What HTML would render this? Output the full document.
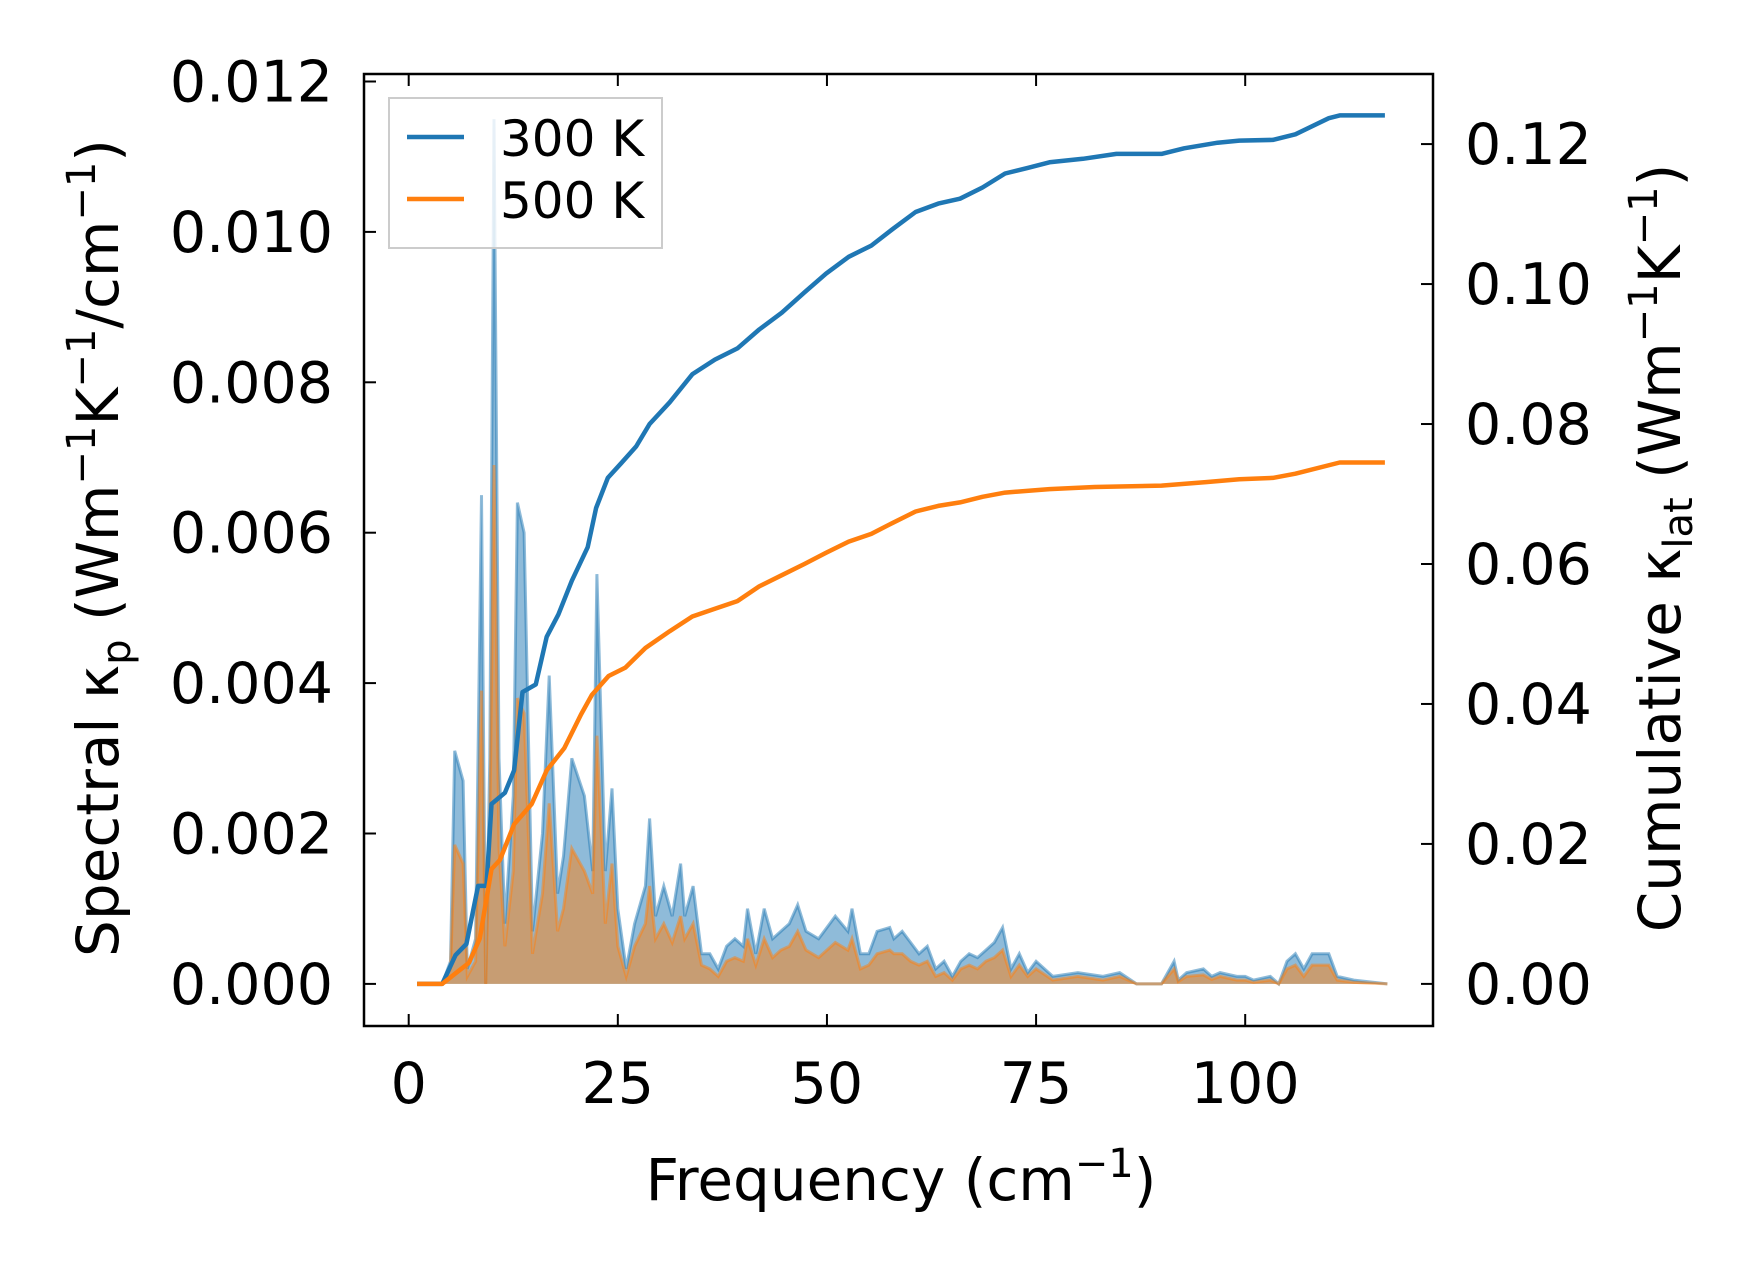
<!DOCTYPE html>
<html><head><meta charset="utf-8"><style>
body{margin:0;background:#fff}
svg text{font-family:"DejaVu Sans","Liberation Sans",sans-serif;fill:#000}
</style></head><body>
<svg id="c" width="1753" height="1277" viewBox="0 0 1753 1277" xmlns="http://www.w3.org/2000/svg"></svg>
<script>
const freqS=[1,4,5,5.5,6.5,7,8,8.7,9.2,9.7,10.2,10.8,11.5,12.5,13,13.8,14.8,16,16.8,17.8,18.5,19.5,21,22,22.5,23.5,24.3,25,26,27,28.3,28.8,29.5,30.5,31.5,32.5,33,34,35,36,37,38,39,40,40.5,41.5,42.5,43.5,44.5,45.5,46.5,47.5,49,51,52.5,53,54,55,56,57.5,58,59,60,61,62,63,64,65,66,67,68,69,70,71,72,73,74,75,77,80,83,85,87,90,91.5,92,93,95,96,97,99,100,101,103,104,105,106,107,108,110,111,113,117];
const spec300=[0,0,0.3,3.1,2.7,0.2,0.6,6.5,0,3,11.5,3,0.8,2.5,6.4,6.0,0.7,2,4.1,1.2,1.7,3.0,2.5,1.5,5.45,1.5,2.6,1,0.2,0.8,1.3,2.2,0.9,1.3,0.9,1.6,0.9,1.3,0.4,0.4,0.2,0.5,0.6,0.5,1.0,0.4,1.0,0.6,0.7,0.8,1.05,0.7,0.6,0.9,0.7,1.0,0.4,0.4,0.7,0.75,0.6,0.7,0.55,0.4,0.5,0.2,0.3,0.1,0.3,0.4,0.35,0.45,0.55,0.75,0.2,0.4,0.15,0.3,0.1,0.15,0.1,0.15,0,0,0.3,0.05,0.15,0.2,0.1,0.15,0.1,0.1,0.05,0.1,0,0.3,0.4,0.2,0.4,0.4,0.1,0.05,0];
const spec500=[0,0,0.2,1.85,1.6,0.1,0.3,3.9,0,2,6.9,1.8,0.5,1.5,3.8,3.6,0.4,1.2,2.4,0.7,1.0,1.8,1.5,1.2,3.3,0.8,1.6,0.5,0.1,0.5,0.8,1.3,0.6,0.8,0.55,0.9,0.6,0.8,0.25,0.2,0.1,0.3,0.35,0.3,0.6,0.25,0.6,0.35,0.45,0.5,0.7,0.45,0.35,0.55,0.45,0.6,0.2,0.25,0.4,0.45,0.4,0.4,0.3,0.25,0.3,0.1,0.15,0.05,0.2,0.25,0.2,0.3,0.35,0.45,0.1,0.25,0.1,0.2,0.05,0.1,0.05,0.1,0,0,0.2,0.03,0.1,0.12,0.06,0.1,0.05,0.05,0.02,0.05,0,0.2,0.25,0.1,0.25,0.25,0.05,0.02,0];
const freq300=[1,4,5.6,6.9,8.3,9.3,9.9,11.5,12.6,13.6,15.2,16.5,17.9,19.5,21.4,22.4,23.8,25.4,27.2,28.8,31.2,33.9,36.6,39.3,41.9,44.6,47.3,49.9,52.6,55.3,57.9,60.6,63.3,65.9,68.6,71.3,74,76.6,80.6,84.6,90,92.7,96.7,99.3,103.3,106,110,111.3,116.7];
const cum300=[0,0,0.0041,0.0057,0.014,0.014,0.0257,0.0273,0.0305,0.0417,0.0428,0.0496,0.0528,0.0576,0.0624,0.068,0.0723,0.0744,0.0768,0.080,0.0831,0.0871,0.0892,0.0908,0.0935,0.0959,0.0988,0.1015,0.1039,0.1055,0.1079,0.1103,0.1115,0.1122,0.1138,0.1158,0.1166,0.1174,0.1179,0.1186,0.1186,0.1194,0.1202,0.1205,0.1206,0.1214,0.1237,0.1241,0.1241];
const freq500=[1,4,5.9,7.2,8.5,9.9,10.9,12.6,14.7,16.5,18.6,20.6,21.9,23.9,25.9,28.3,31.2,33.9,36.6,39.3,41.9,44.6,47.3,49.9,52.6,55.3,57.9,60.6,63.3,65.9,68.6,71.3,76.6,82,90,95.3,99.3,103.3,106,111.3,116.7];
const cum500=[0,0,0.0018,0.003,0.0065,0.0164,0.0177,0.0228,0.0257,0.0305,0.0337,0.0385,0.0413,0.044,0.0452,0.048,0.0504,0.0525,0.0536,0.0547,0.0568,0.0584,0.06,0.0616,0.0632,0.0643,0.0659,0.0675,0.0683,0.0688,0.0696,0.0702,0.0707,0.071,0.0712,0.0717,0.0721,0.0723,0.0729,0.0745,0.0745];
const xTicks=[0,25,50,75,100];
const yLTicks=[0,0.002,0.004,0.006,0.008,0.010,0.012];
const yLLabels=["0.000","0.002","0.004","0.006","0.008","0.010","0.012"];
const yRTicks=[0,0.02,0.04,0.06,0.08,0.10,0.12];
const yRLabels=["0.00","0.02","0.04","0.06","0.08","0.10","0.12"];

const L=364,R=1433,T=74,B=1026;
const X=f=>408.7+f*8.365;
const YL=v=>983.9-(v/0.002)*150.4;
const YR=v=>983.9-(v/0.02)*139.97;
const svg=document.getElementById('c');
const NS='http://www.w3.org/2000/svg';
function el(t,a,p){const e=document.createElementNS(NS,t);for(const k in a)e.setAttribute(k,a[k]);(p||svg).appendChild(e);return e;}
const BLUE='#1f77b4',ORANGE='#ff7f0e';

function spec(vals,color,name){
  const pts=freqS.map((f,i)=>X(f).toFixed(1)+','+YL(vals[i]*1e-3).toFixed(1));
  const a=el('polygon',{points:X(freqS[0])+','+YL(0)+' '+pts.join(' ')+' '+X(freqS[freqS.length-1])+','+YL(0),fill:color,'fill-opacity':0.5,stroke:'none'});
  
  
  const l=el('polyline',{points:pts.join(' '),fill:'none',stroke:color,'stroke-opacity':0.5,'stroke-width':3});
  
  
}
spec(spec300,BLUE,'spectral-300k');
spec(spec500,ORANGE,'spectral-500k');
function cum(fr,vals,color,name){
  const l=el('polyline',{points:fr.map((f,i)=>X(f).toFixed(1)+','+YR(vals[i]).toFixed(1)).join(' '),fill:'none',stroke:color,'stroke-width':4.5,'stroke-linejoin':'round'});
  
  
}
cum(freq300,cum300,BLUE,'cumulative-300k');
cum(freq500,cum500,ORANGE,'cumulative-500k');

const frame=el('rect',{x:L,y:T,width:R-L,height:B-T,fill:'none',stroke:'#000','stroke-width':2.5});


xTicks.forEach(t=>{
  const x=X(t);
  el('line',{x1:x,x2:x,y1:B,y2:B-12,stroke:'#000','stroke-width':2});
  el('line',{x1:x,x2:x,y1:T,y2:T+12,stroke:'#000','stroke-width':2});
  const tx=el('text',{x:x,y:1103,'font-size':57,'text-anchor':'middle'});tx.textContent=t;
  
  
});
yLTicks.forEach((t,i)=>{
  const y=YL(t);
  el('line',{x1:L,x2:L+12,y1:y,y2:y,stroke:'#000','stroke-width':2});
  const tx=el('text',{x:333,y:y+20,'font-size':57,'text-anchor':'end'});tx.textContent=yLLabels[i];
  
  
});
yRTicks.forEach((t,i)=>{
  const y=YR(t);
  el('line',{x1:R,x2:R-12,y1:y,y2:y,stroke:'#000','stroke-width':2});
  const tx=el('text',{x:1465,y:y+20,'font-size':57,'text-anchor':'start'});tx.textContent=yRLabels[i];
  
  
});
</script>
<svg width="1753" height="1277" style="position:absolute;left:0;top:0" xmlns="http://www.w3.org/2000/svg">
<text x="901" y="1200" font-size="58" text-anchor="middle">Frequency (cm<tspan dy="-23" font-size="40">−1</tspan><tspan dy="23">)</tspan></text>
<text transform="translate(118,548) rotate(-90)" font-size="58" text-anchor="middle">Spectral κ<tspan dy="12" font-size="40">p</tspan><tspan dy="-12"> (Wm</tspan><tspan dy="-23" font-size="40">−1</tspan><tspan dy="23">K</tspan><tspan dy="-23" font-size="40">−1</tspan><tspan dy="23">/cm</tspan><tspan dy="-23" font-size="40">−1</tspan><tspan dy="23">)</tspan></text>
<text transform="translate(1680,548) rotate(-90)" font-size="58" text-anchor="middle">Cumulative κ<tspan dy="12" font-size="40">lat</tspan><tspan dy="-12"> (Wm</tspan><tspan dy="-23" font-size="40">−1</tspan><tspan dy="23">K</tspan><tspan dy="-23" font-size="40">−1</tspan><tspan dy="23">)</tspan></text>
<g>
<rect x="389" y="98" width="273" height="150" fill="#fff" fill-opacity="0.8" stroke="#ccc" stroke-width="2"/>
<line x1="407" x2="464" y1="137" y2="137" stroke="#1f77b4" stroke-width="4.5"/>
<text x="500" y="156" font-size="50">300 K</text>
<line x1="407" x2="464" y1="199" y2="199" stroke="#ff7f0e" stroke-width="4.5"/>
<text x="500" y="218" font-size="50">500 K</text>
</g>
</svg>
</body></html>
